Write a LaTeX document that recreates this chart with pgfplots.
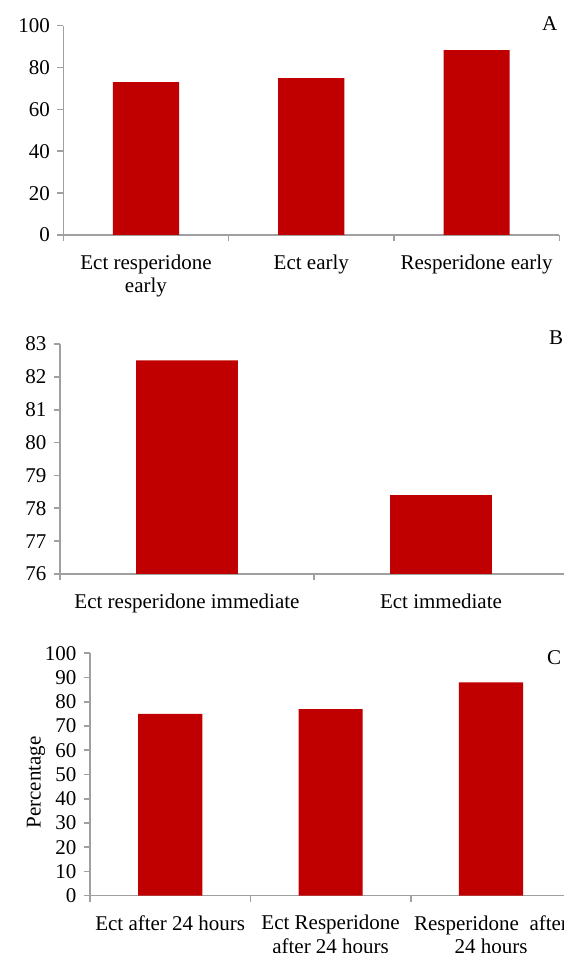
\documentclass[border=0pt]{standalone}
\usepackage{pgfplots}
\pgfplotsset{compat=1.18}
\usepackage{fontspec}
\setmainfont{Liberation Serif}
\definecolor{barred}{HTML}{C00000}
\definecolor{axgray}{HTML}{A0A0A0}
\newcommand{\ff}{\fontsize{21}{23.5}\selectfont}
\pgfplotsset{
  panel/.style={
    scale only axis,
    anchor=south west,
    axis x line*=bottom,
    axis y line*=left,
    axis line style={draw=axgray, line width=1.6pt},
    ybar, bar width=0.4,
    tick align=outside,
    major tick length=6pt,
    minor tick length=6pt,
    tick style={draw=axgray, line width=1.6pt},
    major x tick style={draw=none},
    /pgf/number format/assume math mode=true,
    tick label style={font=\ff},
    yticklabel style={xshift=-4pt},
    xticklabel style={align=center, text depth=0pt, yshift=-10pt},
    label style={font=\ff},
    clip=true,
  }
}
\begin{document}
\begin{tikzpicture}[x=1pt,y=1pt]
\path[use as bounding box] (0,0) rectangle (564,953);
\clip (0,0) rectangle (564,953);
% Panel A
\begin{axis}[panel,
  at={(63.3pt,718pt)}, width=496pt, height=209.3pt,
  xmin=-0.5, xmax=2.5, ymin=0, ymax=100,
  ytick={0,20,40,60,80,100},
  xtick={0,1,2},
  minor xtick={-0.5,0.5,1.5,2.5},
  xticklabels={Ect resperidone\\early, Ect early, Resperidone early},
]
\addplot[fill=barred, draw=none] coordinates {(0,73) (1,75) (2,88.3)};
\end{axis}
% Panel B
\begin{axis}[panel,
  at={(60pt,379pt)}, width=508pt, height=230pt,
  xmin=-0.5, xmax=1.5, ymin=76, ymax=83,
  ytick={76,77,78,79,80,81,82,83},
  xtick={0,1},
  minor xtick={-0.5,0.5,1.5},
  xticklabels={Ect resperidone immediate, Ect immediate},
]
\addplot[fill=barred, draw=none] coordinates {(0,82.5) (1,78.4)};
\end{axis}
% Panel C
\begin{axis}[panel,
  at={(90pt,57.3pt)}, width=481.2pt, height=242.4pt,
  xmin=-0.5, xmax=2.5, ymin=0, ymax=100,
  ytick={0,10,20,30,40,50,60,70,80,90,100},
  xtick={0,1,2},
  minor xtick={-0.5,0.5,1.5,2.5},
  xticklabels={Ect after 24 hours, Ect Resperidone\\after 24 hours, Resperidone\ \ after\\24 hours},
  ylabel={Percentage},
  ylabel style={xshift=-8pt, yshift=-7pt},
]
\addplot[fill=barred, draw=none] coordinates {(0,75) (1,77) (2,88)};
\end{axis}
\node[anchor=base west, font=\ff, inner sep=0pt] at (542,922) {A};
\node[anchor=base west, font=\ff, inner sep=0pt] at (549,608) {B};
\node[anchor=base west, font=\ff, inner sep=0pt] at (547,288) {C};
\end{tikzpicture}
\end{document}
